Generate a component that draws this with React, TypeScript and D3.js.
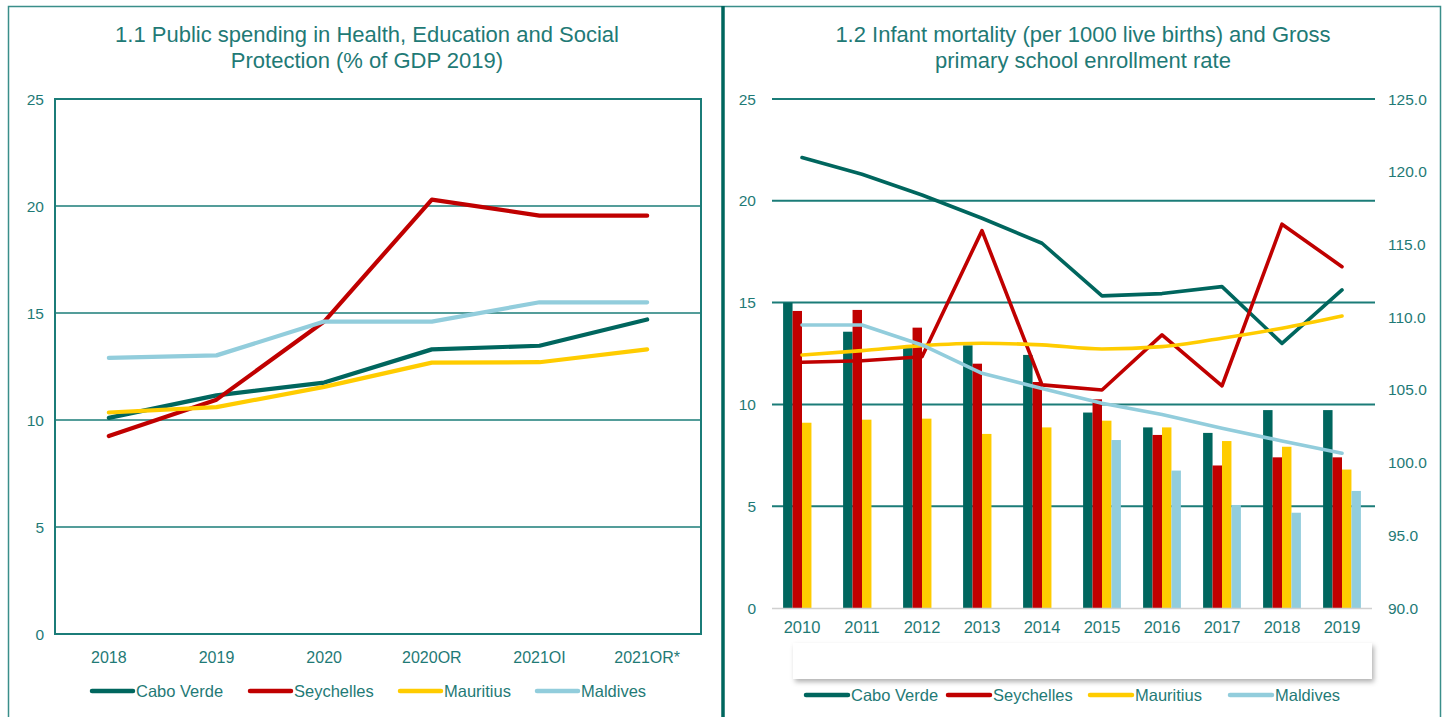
import React from 'react';
import * as d3 from 'd3';

// chart 1.1 – public spending (% of GDP)
const spendCats = ['2018', '2019', '2020', '2020OR', '2021OI', '2021OR*'];
const spendCaboVerde = [10.1, 11.15, 11.75, 13.3, 13.47, 14.7];
const spendSeychelles = [9.25, 10.95, 14.6, 20.3, 19.55, 19.55];
const spendMauritius = [10.35, 10.6, 11.55, 12.68, 12.7, 13.3];
const spendMaldives = [12.9, 13.02, 14.6, 14.6, 15.5, 15.5];

// chart 1.2 – infant mortality (bars, left axis) and enrollment (lines, right axis)
const years = ['2010', '2011', '2012', '2013', '2014', '2015', '2016', '2017', '2018', '2019'];
const mortCaboVerde = [15.0, 13.57, 12.85, 12.9, 12.43, 9.6, 8.87, 8.6, 9.72, 9.72];
const mortSeychelles = [14.59, 14.64, 13.77, 12.0, 11.1, 10.25, 8.5, 7.0, 7.4, 7.4];
const mortMauritius = [9.1, 9.25, 9.3, 8.55, 8.87, 9.2, 8.87, 8.2, 7.92, 6.8];
const mortMaldives = [0, 0, 0, 0, 0, 8.25, 6.75, 5.06, 4.68, 5.75];
const enrolCaboVerde = [120.97, 119.83, 118.4, 116.8, 115.08, 111.46, 111.62, 112.1, 108.2, 111.87];
const enrolSeychelles = [106.9, 107.0, 107.28, 115.95, 105.34, 104.99, 108.78, 105.27, 116.39, 113.47];
const enrolMauritius = [107.4, 107.7, 108.04, 108.2, 108.09, 107.81, 107.97, 108.55, 109.24, 110.08];
const enrolMaldives = [109.46, 109.46, 108.09, 106.14, 105.1, 104.08, 103.3, 102.36, 101.49, 100.64];

const leftTicks = [0, 5, 10, 15, 20, 25];
const rightTicks = [90, 95, 100, 105, 110, 115, 120, 125];
const countries = ['Cabo Verde', 'Seychelles', 'Mauritius', 'Maldives'];

const colors = ['#00665E', '#C00000', '#FFCC00', '#92CDDC'];
const teal = '#1B7C78';
const textCol = '#1F7A76';
const font = 'Liberation Sans, Arial, sans-serif';

const App = () => {
  // ---- left chart
  const x1 = d3.scaleBand().domain(spendCats).range([55, 701]);
  const y1 = d3.scaleLinear().domain([0, 25]).range([634, 99]);
  const line1 = d3
    .line<number>()
    .x((_, i) => (x1(spendCats[i]) as number) + x1.bandwidth() / 2)
    .y((d) => y1(d));
  const spendSeries = [spendCaboVerde, spendSeychelles, spendMauritius, spendMaldives];

  // ---- right chart
  const x2 = d3.scaleBand().domain(years).range([772, 1372]).paddingInner(0.37).paddingOuter(0.185);
  const xSub = d3.scaleBand().domain(countries).range([0, x2.bandwidth()]);
  const y2 = d3.scaleLinear().domain([0, 25]).range([608, 99]);
  const y2r = d3.scaleLinear().domain([90, 125]).range([608, 99]);
  const mortSeries = [mortCaboVerde, mortSeychelles, mortMauritius, mortMaldives];
  const enrolSeries = [enrolCaboVerde, enrolSeychelles, enrolMauritius, enrolMaldives];
  const cx2 = (i: number) => (x2(years[i]) as number) + x2.bandwidth() / 2;
  const line2 = d3
    .line<number>()
    .x((_, i) => cx2(i))
    .y((d) => y2r(d));
  const line2Smooth = d3
    .line<number>()
    .x((_, i) => cx2(i))
    .y((d) => y2r(d))
    .curve(d3.curveMonotoneX);

  const legend1X = [92, 250, 400, 537];
  const legend2X = [806, 948, 1090, 1230];

  return (
    <svg
      width={1446}
      height={717}
      style={{ position: 'absolute', left: 0, top: 0, background: '#fff', fontFamily: font }}
    >
      <defs>
        <filter id="shadow" x="-5%" y="-30%" width="110%" height="170%">
          <feDropShadow dx="2" dy="3" stdDeviation="2.5" floodColor="#000" floodOpacity="0.3" />
        </filter>
      </defs>

      {/* panel frames */}
      <path d="M8.5,717 V6.5 H1440.5 V717" fill="none" stroke="#3A8E8A" strokeWidth={1.5} />
      <line x1={723} x2={723} y1={6} y2={717} stroke="#00665E" strokeWidth={3.5} />

      {/* ===== chart 1.1 ===== */}
      <text x={367} y={42} textAnchor="middle" fontSize={22} fill={textCol}>
        1.1 Public spending in Health, Education and Social
      </text>
      <text x={367} y={68} textAnchor="middle" fontSize={22} fill={textCol}>
        Protection (% of GDP 2019)
      </text>
      {leftTicks.map((t) => (
        <g key={'g1' + t}>
          <line x1={55} x2={701} y1={y1(t)} y2={y1(t)} stroke={teal} strokeWidth={1.6} />
          <text x={44} y={y1(t) + 5.5} textAnchor="end" fontSize={15.5} fill={textCol}>
            {t}
          </text>
        </g>
      ))}
      <rect x={55} y={99} width={646} height={535} fill="none" stroke={teal} strokeWidth={2} />
      {spendCats.map((c) => (
        <text
          key={c}
          x={(x1(c) as number) + x1.bandwidth() / 2}
          y={663}
          textAnchor="middle"
          fontSize={16}
          fill={textCol}
        >
          {c}
        </text>
      ))}
      {spendSeries.map((s, i) => (
        <path
          key={'l1' + i}
          d={line1(s) as string}
          fill="none"
          stroke={colors[i]}
          strokeWidth={4.2}
          strokeLinecap="round"
          strokeLinejoin="round"
        />
      ))}
      {countries.map((c, i) => (
        <g key={'lg1' + c}>
          <line x1={legend1X[i]} x2={legend1X[i] + 41} y1={691} y2={691} stroke={colors[i]} strokeWidth={4.5} strokeLinecap="round" />
          <text x={legend1X[i] + 44} y={697} fontSize={16.5} fill={textCol}>
            {c}
          </text>
        </g>
      ))}

      {/* ===== chart 1.2 ===== */}
      <text x={1083} y={42} textAnchor="middle" fontSize={22} fill={textCol}>
        1.2 Infant mortality (per 1000 live births) and Gross
      </text>
      <text x={1083} y={68} textAnchor="middle" fontSize={22} fill={textCol}>
        primary school enrollment rate
      </text>
      {leftTicks.map((t) => (
        <g key={'g2' + t}>
          {t > 0 && <line x1={772} x2={1375} y1={y2(t)} y2={y2(t)} stroke={teal} strokeWidth={2} />}
          <text x={756} y={y2(t) + 5.5} textAnchor="end" fontSize={15.5} fill={textCol}>
            {t}
          </text>
        </g>
      ))}
      {rightTicks.map((t) => (
        <text key={'r' + t} x={1388} y={y2r(t) + 5.5} fontSize={15.5} fill={textCol}>
          {t.toFixed(1)}
        </text>
      ))}
      {years.map((yr, i) =>
        mortSeries.map((s, k) =>
          s[i] > 0 ? (
            <rect
              key={'b' + yr + k}
              x={(x2(yr) as number) + (xSub(countries[k]) as number)}
              y={y2(s[i])}
              width={xSub.bandwidth()}
              height={y2(0) - y2(s[i])}
              fill={colors[k]}
            />
          ) : null
        )
      )}
      <line x1={772} x2={1372} y1={608.5} y2={608.5} stroke="#D0D0D0" strokeWidth={1.5} />
      {years.map((yr, i) => (
        <text key={'x' + yr} x={cx2(i)} y={632.5} textAnchor="middle" fontSize={16.5} fill={textCol}>
          {yr}
        </text>
      ))}
      {enrolSeries.map((s, i) => (
        <path
          key={'l2' + i}
          d={(i === 2 ? line2Smooth(s) : line2(s)) as string}
          fill="none"
          stroke={colors[i]}
          strokeWidth={3.6}
          strokeLinecap="round"
          strokeLinejoin="round"
        />
      ))}
      <rect x={793} y={643} width={579} height={36} fill="#fff" filter="url(#shadow)" />
      {countries.map((c, i) => (
        <g key={'lg2' + c}>
          <line x1={legend2X[i]} x2={legend2X[i] + 42} y1={695} y2={695} stroke={colors[i]} strokeWidth={4.5} strokeLinecap="round" />
          <text x={legend2X[i] + 45} y={701} fontSize={16.5} fill={textCol}>
            {c}
          </text>
        </g>
      ))}
    </svg>
  );
};

export default App;
